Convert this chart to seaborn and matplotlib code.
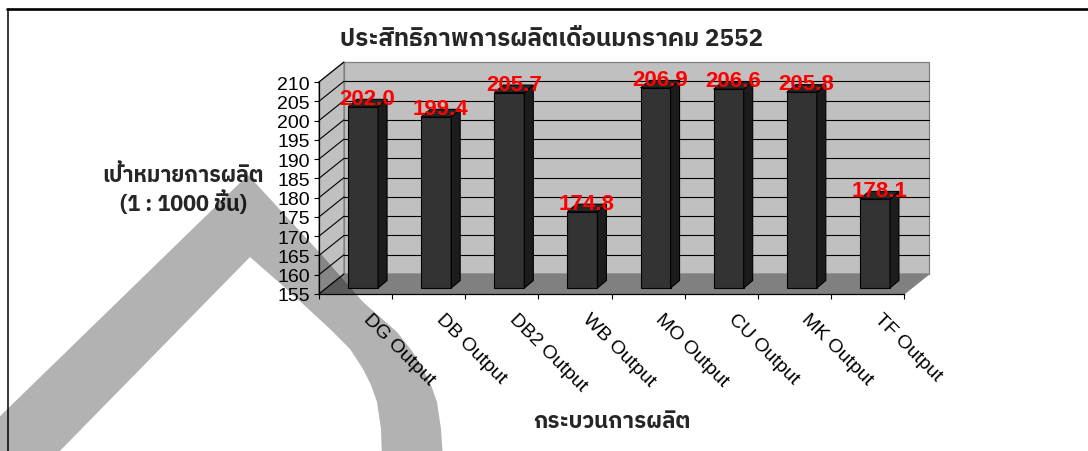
import numpy as np
import pandas as pd
import matplotlib
matplotlib.use("Agg")
import matplotlib.pyplot as plt
import matplotlib.transforms as mtransforms
from matplotlib.patches import Polygon
from matplotlib.lines import Line2D
from matplotlib import font_manager, ft2font
import seaborn as sns

# ---- data -------------------------------------------------------------
processes = ["DG Output", "DB Output", "DB2 Output", "WB Output",
             "MO Output", "CU Output", "MK Output", "TF Output"]
efficiency = [202.0, 199.4, 205.7, 174.8, 206.9, 206.6, 205.8, 178.1]
y_ticks = list(range(155, 211, 5))
title_text = "ประสิทธิภาพการผลิตเดือนมกราคม 2552"
ylabel_text = "เป้าหมายการผลิต\n(1 : 1000 ชิ้น)"
xlabel_text = "กระบวนการผลิต"

# ---- canvas -----------------------------------------------------------
W, H, DPI = 1088, 452, 100
sns.set_theme(style="white")


def families_with(char):
    found = []
    for entry in font_manager.fontManager.ttflist:
        if entry.name in found:
            continue
        try:
            cmap = ft2font.FT2Font(entry.fname).get_charmap()
        except Exception:
            continue
        if ord(char) in cmap:
            found.append(entry.name)
    found.sort(key=lambda n: (0 if "Sans" in n else 1, n))
    return found


thai = families_with("ก")
LATIN = ["Liberation Sans", "DejaVu Sans"]
THAI = (thai[:1] + LATIN) if thai else LATIN
plt.rcParams["font.family"] = LATIN

fig = plt.figure(figsize=(W / DPI, H / DPI), dpi=DPI, facecolor="white")
# front plane of the 3-D box
ax = fig.add_axes([319 / W, 1 - 295 / H, (904 - 319) / W, (295 - 83) / H])
ax.patch.set_visible(False)

df = pd.DataFrame({"process": processes, "value": efficiency})
sns.barplot(data=df, x="process", y="value", color="#333333", saturation=1,
            width=0.41, edgecolor="black", linewidth=0.8, ax=ax, zorder=3)

BASE = y_ticks[0]
ax.set_ylim(BASE, y_ticks[-1])
ax.set_xlim(-0.5, len(processes) - 0.5)

# depth vectors in pixels
DX, DY = 25, 20          # full box depth
FX, FY = 7.5, 6          # front face of the columns
BX, BY = 9, 7.5          # column depth

to_px = ax.transData.transform
x0, y0 = to_px((-0.5, BASE))
x1, y1 = to_px((len(processes) - 0.5, y_ticks[-1]))
ident = mtransforms.IdentityTransform()


def poly(pts, **kw):
    p = Polygon(pts, closed=True, transform=ident, clip_on=False, **kw)
    ax.add_patch(p)
    return p


# walls and floor
poly([(x0 + DX, y0 + DY), (x1 + DX, y0 + DY), (x1 + DX, y1 + DY), (x0 + DX, y1 + DY)],
     facecolor="#c0c0c0", edgecolor="#808080", linewidth=0.9, zorder=0.2)
poly([(x0, y0), (x0 + DX, y0 + DY), (x0 + DX, y1 + DY), (x0, y1)],
     facecolor="#c0c0c0", edgecolor="#808080", linewidth=0.9, zorder=0.2)
poly([(x0, y0), (x1, y0), (x1 + DX, y0 + DY), (x0 + DX, y0 + DY)],
     facecolor="#808080", edgecolor="#808080", linewidth=0.9, zorder=0.25)

# gridlines on back wall and left wall
for v in y_ticks[1:-1]:
    _, yv = to_px((0, v))
    ax.add_line(Line2D([x0 + DX, x1 + DX], [yv + DY, yv + DY], transform=ident,
                       color="black", linewidth=0.8, zorder=0.3, clip_on=False))
for v in y_ticks:
    _, yv = to_px((0, v))
    ax.add_line(Line2D([x0, x0 + DX], [yv, yv + DY], transform=ident,
                       color="black", linewidth=0.8, zorder=0.3, clip_on=False))

# translucent swoosh in the background (pixel outline, y measured from top)
swoosh = [(-44, 460), (248, 176), (320, 254), (363, 303), (397, 333), (412, 352),
          (423, 370), (431, 386), (437, 403), (441, 430), (443, 460),
          (382, 460), (381, 430), (377, 403), (371, 386), (363, 370), (350, 350),
          (330, 330), (290, 293), (250, 258), (52, 460)]
poly([(x, H - y) for x, y in swoosh], facecolor="black", alpha=0.3,
     linewidth=0, zorder=1)

# columns: front faces from seaborn, side and top faces from their geometry
bars = [p for p in ax.patches if p.get_zorder() == 3]
shift = mtransforms.Affine2D().translate(FX, FY)
for p in bars:
    top = p.get_y() + p.get_height()
    p.set_y(BASE)
    p.set_height(top - BASE)
    p.set_transform(ax.transData + shift)
    p.set_clip_on(False)
    xl, yb = to_px((p.get_x(), BASE))
    xr, yt = to_px((p.get_x() + p.get_width(), top))
    xl, xr, yb, yt = xl + FX, xr + FX, yb + FY, yt + FY
    poly([(xr, yb), (xr + BX, yb + BY), (xr + BX, yt + BY), (xr, yt)],
         facecolor="#1c1c1c", edgecolor="black", linewidth=0.8, zorder=3)
    poly([(xl, yt), (xr, yt), (xr + BX, yt + BY), (xl + BX, yt + BY)],
         facecolor="#262626", edgecolor="black", linewidth=0.8, zorder=3)

for i, v in enumerate(efficiency):
    ax.annotate(f"{v:.1f}", xy=(i, v), xytext=(FX + BX / 2, FY + BY / 2 + 4.5),
                textcoords="offset pixels", ha="center", va="center",
                color="#ff0000", fontsize=16, fontweight="bold", zorder=6,
                annotation_clip=False)

# axes, ticks and labels
for side in ("top", "right"):
    ax.spines[side].set_visible(False)
for side in ("left", "bottom"):
    ax.spines[side].set_color("black")
    ax.spines[side].set_linewidth(0.9)
    ax.spines[side].set_zorder(2.5)

ax.set_yticks(y_ticks)
ax.tick_params(axis="y", left=True, direction="out", length=3.6, width=0.8,
               color="black", labelsize=14, pad=3, labelcolor="black")
ax.set_xticks(range(len(processes)))
ax.set_xticklabels(processes)
ax.set_xticks(np.arange(-0.5, len(processes)), minor=True)
ax.tick_params(axis="x", which="major", bottom=True, length=0, pad=0,
               labelsize=14, labelcolor="black")
ax.tick_params(axis="x", which="minor", bottom=True, direction="out",
               length=3.6, width=0.8, color="black")
label_shift = mtransforms.ScaledTranslation(10 / DPI, -22 / DPI, fig.dpi_scale_trans)
for lab in ax.get_xticklabels():
    lab.set_rotation(-45)
    lab.set_rotation_mode("anchor")
    lab.set_ha("left")
    lab.set_va("center")
    lab.set_transform(lab.get_transform() + label_shift)

ax.set_ylabel(ylabel_text, rotation=0, ha="center", va="center",
              fontsize=15.5, fontweight="bold", family=THAI, linespacing=1.2)
ax.yaxis.set_label_coords((183 - 319) / (904 - 319), (295 - 190) / (295 - 83))
ax.set_xlabel(xlabel_text, fontsize=16, fontweight="bold", family=THAI)
ax.xaxis.set_label_coords((612 - 319) / (904 - 319), -(422 - 295) / (295 - 83))
ax.xaxis.label.set_va("center")

fig.suptitle(title_text, x=552 / W, y=1 - 40 / H, va="center",
             fontsize=17.5, fontweight="bold", family=THAI)

# outer frame lines
fig.add_artist(Line2D([7 / W, 1], [1 - 9.5 / H] * 2, transform=fig.transFigure,
                      color="black", linewidth=1.9))
fig.add_artist(Line2D([7.5 / W] * 2, [0, 1 - 9.5 / H], transform=fig.transFigure,
                      color="black", linewidth=1.1))

fig.savefig("out.png", dpi=DPI, facecolor="white")
